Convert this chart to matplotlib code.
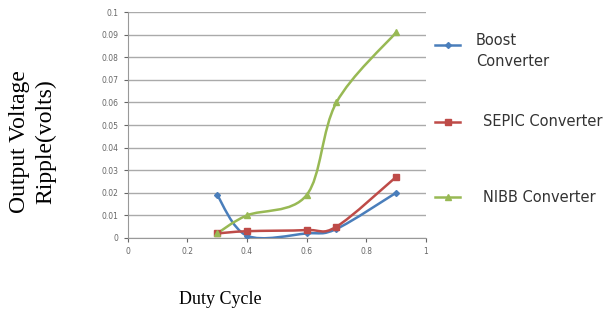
import matplotlib.pyplot as plt
import numpy as np
from matplotlib.path import Path
from matplotlib.patches import PathPatch
from matplotlib.lines import Line2D

# duty cycle vs output voltage ripple
duty = [0.3, 0.4, 0.6, 0.7, 0.9]
boost = [0.019, 0.001, 0.002, 0.004, 0.020]
sepic = [0.002, 0.003, 0.0035, 0.005, 0.027]
nibb = [0.002, 0.010, 0.019, 0.060, 0.091]

x_ticks = [0, 0.2, 0.4, 0.6, 0.8, 1]
x_labels = ['0', '0.2', '0.4', '0.6', '0.8', '1']
y_ticks = [0, 0.01, 0.02, 0.03, 0.04, 0.05, 0.06, 0.07, 0.08, 0.09, 0.1]
y_labels = ['0', '0.01', '0.02', '0.03', '0.04', '0.05', '0.06', '0.07', '0.08', '0.09', '0.1']


def smooth_path(xs, ys):
    # excel-style smoothed line: catmull-rom segments as cubic beziers
    xs = np.asarray(xs, float)
    ys = np.asarray(ys, float)
    n = len(xs)
    verts = [(xs[0], ys[0])]
    codes = [Path.MOVETO]
    for i in range(n - 1):
        p0 = i - 1 if i > 0 else i
        p3 = i + 2 if i + 2 < n else i + 1
        c1 = (xs[i] + (xs[i + 1] - xs[p0]) / 6, ys[i] + (ys[i + 1] - ys[p0]) / 6)
        c2 = (xs[i + 1] - (xs[p3] - xs[i]) / 6, ys[i + 1] - (ys[p3] - ys[i]) / 6)
        verts += [c1, c2, (xs[i + 1], ys[i + 1])]
        codes += [Path.CURVE4] * 3
    return Path(verts, codes)


W, H = 611, 319
fig = plt.figure(figsize=(W / 100, H / 100), dpi=100)
ax = fig.add_axes([0.209, 0.254, 0.488, 0.708])

# (values, colour, marker, size, label, handle y px, text x px, text y px)
series = [
    (boost, '#4a7ebb', 'D', 3, 'Boost\nConverter', 45, 476, 51),
    (sepic, '#be4b48', 's', 4.5, 'SEPIC Converter', 122, 483, 122),
    (nibb, '#98b954', '^', 4.5, 'NIBB Converter', 197, 483, 197),
]
for ys, col, mk, ms, lab, ly, tx, ty in series:
    ax.add_patch(PathPatch(smooth_path(duty, ys), fill=False, edgecolor=col, lw=1.8, zorder=3))
    ax.plot(duty, ys, ls='none', marker=mk, ms=ms, color=col, zorder=4)
    # legend entry drawn by hand (excel-style spacing)
    fy = 1 - ly / H
    fig.add_artist(Line2D([435 / W, 460 / W], [fy, fy], color=col, lw=1.8))
    fig.add_artist(Line2D([447.5 / W], [fy], color=col, marker=mk, ms=ms))
    fig.text(tx / W, 1 - ty / H, lab, ha='left', va='center', fontsize=10.5, color='#333333',
             linespacing=1.5)

ax.set_xlim(0, 1)
ax.set_ylim(0, 0.1)
ax.set_xticks(x_ticks)
ax.set_xticklabels(x_labels)
ax.set_yticks(y_ticks)
ax.set_yticklabels(y_labels)
ax.tick_params(labelsize=5.5, colors='#666666', length=3, direction='out')
ax.yaxis.grid(True, color='#aaaaaa', lw=1)
ax.set_axisbelow(True)
for s in ['top', 'right']:
    ax.spines[s].set_visible(False)
for s in ['left', 'bottom']:
    ax.spines[s].set_color('#999999')

fig.text(0.053, 0.555, 'Output Voltage\nRipple(volts)', rotation=90, ha='center', va='center',
         family='Liberation Serif', fontsize=17, linespacing=1.3)
fig.text(0.36, 0.06, 'Duty Cycle', ha='center', va='center',
         family='Liberation Serif', fontsize=13)

fig.savefig('out.png', dpi=100)
